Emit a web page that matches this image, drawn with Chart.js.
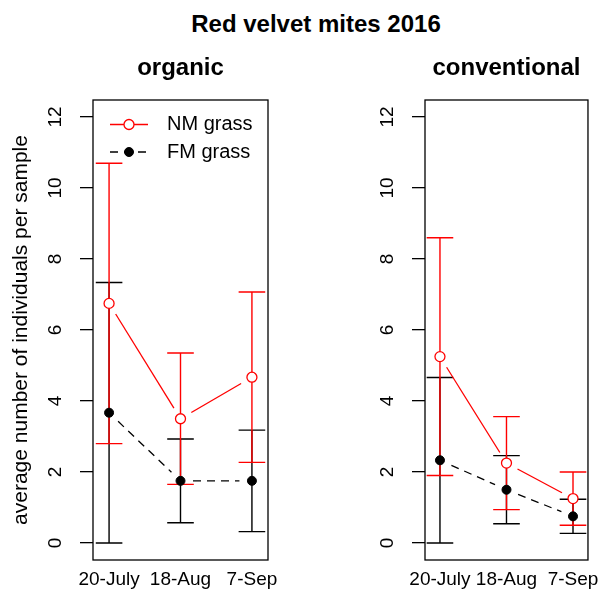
<!DOCTYPE html>
<html>
<head>
<meta charset="utf-8">
<script src="https://cdn.jsdelivr.net/npm/chart.js@4"></script>
<style>
  body { margin: 0; background: #fff; }
  #wrap { position: relative; width: 607px; height: 592px; background: #fff; overflow: hidden; }
  #mainTitle {
    position: absolute; left: 0; top: 9.5px; width: 632px; text-align: center;
    font: bold 24px "Liberation Sans", Arial, sans-serif; line-height: 28px; color: #000;
  }
  canvas { position: absolute; top: 0; }
  #organic { left: 0; }
  #conventional { left: 303px; }
</style>
</head>
<body>
<div id="wrap">
  <div id="mainTitle">Red velvet mites 2016</div>
  <canvas id="organic" width="303" height="592"></canvas>
  <canvas id="conventional" width="304" height="592"></canvas>
</div>
<script>
var dates = ['20-July', '18-Aug', '7-Sep'];
var yTicks = [0, 2, 4, 6, 8, 10, 12];

// organic plots: means and error (+/-) per sampling date
var organicNM = [6.75, 3.5, 4.67];
var organicNMErr = [3.95, 1.85, 2.4];
var organicFM = [3.67, 1.75, 1.75];
var organicFMErr = [3.67, 1.18, 1.43];

// conventional plots
var conventionalNM = [5.25, 2.25, 1.25];
var conventionalNMErr = [3.35, 1.31, 0.75];
var conventionalFM = [2.33, 1.5, 0.75];
var conventionalFMErr = [2.33, 0.96, 0.48];

var FONT = '"Liberation Sans", Arial, sans-serif';

function points(values) {
  return values.map(function (v, i) { return { x: i + 1, y: v }; });
}

function makeDatasets(nm, nmErr, fm, fmErr) {
  return [{
    label: 'NM grass',
    data: points(nm),
    errors: nmErr,
    color: 'red',
    dash: [],
    pointStyle: 'circle',
    pointRadius: 5,
    pointBackgroundColor: '#fff',
    pointBorderColor: 'red',
    pointBorderWidth: 1.3,
    showLine: false
  }, {
    label: 'FM grass',
    data: points(fm),
    errors: fmErr,
    color: 'black',
    dash: [8, 6],
    pointStyle: 'circle',
    pointRadius: 4.5,
    pointBackgroundColor: '#000',
    pointBorderColor: '#000',
    pointBorderWidth: 1,
    showLine: false
  }];
}

// frame, error bars and the gapped connecting lines (like R's type = "b")
var errorBars = {
  id: 'errorBars',
  beforeDatasetsDraw: function (chart) {
    var ctx = chart.ctx, a = chart.chartArea;
    var xs = chart.scales.x, ys = chart.scales.y;
    ctx.save();
    ctx.strokeStyle = '#000';
    ctx.lineWidth = 1.3;
    ctx.strokeRect(a.left, a.top, a.width, a.height);

    var cap = 13.3;
    [1, 0].forEach(function (k) {
      var ds = chart.data.datasets[k];
      ctx.strokeStyle = ds.color;
      ctx.lineWidth = 1.4;
      ctx.setLineDash([]);
      ds.data.forEach(function (p, j) {
        var px = xs.getPixelForValue(p.x);
        var hi = ys.getPixelForValue(p.y + ds.errors[j]);
        var lo = ys.getPixelForValue(Math.max(0, p.y - ds.errors[j]));
        ctx.beginPath();
        ctx.moveTo(px, hi); ctx.lineTo(px, lo);
        ctx.moveTo(px - cap, hi); ctx.lineTo(px + cap, hi);
        ctx.moveTo(px - cap, lo); ctx.lineTo(px + cap, lo);
        ctx.stroke();
      });
    });

    var gap = 12.5;
    chart.data.datasets.forEach(function (ds) {
      ctx.strokeStyle = ds.color;
      ctx.lineWidth = 1.3;
      for (var j = 0; j < ds.data.length - 1; j++) {
        var x0 = xs.getPixelForValue(ds.data[j].x), y0 = ys.getPixelForValue(ds.data[j].y);
        var x1 = xs.getPixelForValue(ds.data[j + 1].x), y1 = ys.getPixelForValue(ds.data[j + 1].y);
        var dx = x1 - x0, dy = y1 - y0, len = Math.sqrt(dx * dx + dy * dy);
        if (len <= 2 * gap) continue;
        var ux = dx / len, uy = dy / len;
        ctx.setLineDash(ds.dash);
        ctx.beginPath();
        ctx.moveTo(x0 + ux * gap, y0 + uy * gap);
        ctx.lineTo(x1 - ux * gap, y1 - uy * gap);
        ctx.stroke();
      }
    });
    ctx.restore();
  },
  afterDraw: function (chart) {
    // y tick labels written along the axis
    var ctx = chart.ctx, a = chart.chartArea, ys = chart.scales.y;
    ctx.save();
    ctx.fillStyle = '#000';
    ctx.font = '19px ' + FONT;
    ctx.textAlign = 'center';
    ctx.textBaseline = 'middle';
    ys.ticks.forEach(function (t) {
      ctx.save();
      ctx.translate(a.left - 37.5, ys.getPixelForValue(t.value));
      ctx.rotate(-Math.PI / 2);
      ctx.fillText(String(t.value), 0, 0);
      ctx.restore();
    });
    ctx.restore();
  }
};

// panel heading centred over the plot frame
var panelTitle = {
  id: 'panelTitle',
  afterDraw: function (chart, args, opts) {
    var ctx = chart.ctx, a = chart.chartArea;
    ctx.save();
    ctx.fillStyle = '#000';
    ctx.font = 'bold 24px ' + FONT;
    ctx.textAlign = 'center';
    ctx.textBaseline = 'alphabetic';
    ctx.fillText(opts.text, (a.left + a.right) / 2, 74.5);
    ctx.restore();
  }
};

var seriesLegend = {
  id: 'seriesLegend',
  afterDraw: function (chart) {
    var ctx = chart.ctx, a = chart.chartArea;
    ctx.save();
    ctx.font = '20px ' + FONT;
    ctx.textBaseline = 'middle';
    chart.data.datasets.forEach(function (ds, i) {
      var y = a.top + 24.5 + i * 27.5;
      var x0 = a.left + 17, x1 = a.left + 55, cx = a.left + 36;
      ctx.strokeStyle = ds.color;
      ctx.lineWidth = 1.3;
      ctx.setLineDash(ds.dash);
      ctx.beginPath();
      ctx.moveTo(x0, y); ctx.lineTo(x1, y);
      ctx.stroke();
      ctx.setLineDash([]);
      ctx.beginPath();
      ctx.arc(cx, y, ds.pointRadius, 0, Math.PI * 2);
      ctx.fillStyle = ds.pointBackgroundColor;
      ctx.fill();
      ctx.strokeStyle = ds.pointBorderColor;
      ctx.lineWidth = ds.pointBorderWidth;
      ctx.stroke();
      ctx.fillStyle = '#000';
      ctx.fillText(ds.label, a.left + 74, y);
    });
    ctx.restore();
  }
};

function makeChart(id, title, datasets, yWidth, rightPad, yLabel, extraPlugins) {
  return new Chart(document.getElementById(id), {
    type: 'scatter',
    data: { datasets: datasets },
    plugins: [errorBars, panelTitle].concat(extraPlugins),
    options: {
      responsive: false,
      animation: false,
      layout: { padding: { left: 0, right: rightPad, top: 100, bottom: 0 } },
      plugins: {
        legend: { display: false },
        tooltip: { enabled: false },
        title: { display: false },
        panelTitle: { text: title }
      },
      scales: {
        x: {
          type: 'linear',
          min: 0.775,
          max: 3.225,
          grid: { display: false, drawTicks: false },
          border: { display: false },
          afterBuildTicks: function (s) {
            s.ticks = dates.map(function (d, i) { return { value: i + 1 }; });
          },
          afterFit: function (s) { s.height = 32; },
          ticks: {
            color: '#000',
            padding: 8,
            maxRotation: 0,
            autoSkip: false,
            font: { family: FONT, size: 19 },
            callback: function (v) { return dates[v - 1]; }
          }
        },
        y: {
          type: 'linear',
          min: -0.48,
          max: 12.48,
          afterBuildTicks: function (s) {
            s.ticks = yTicks.map(function (v) { return { value: v }; });
          },
          afterFit: function (s) { s.width = yWidth; },
          border: { display: false },
          grid: {
            drawOnChartArea: false,
            drawTicks: true,
            tickLength: 13,
            color: '#000',
            lineWidth: 1.3
          },
          ticks: { display: false },
          title: {
            display: !!yLabel,
            text: yLabel,
            color: '#000',
            font: { family: FONT, size: 21 },
            padding: { top: 9, bottom: 0 }
          }
        }
      }
    }
  });
}

makeChart('organic', 'organic',
  makeDatasets(organicNM, organicNMErr, organicFM, organicFMErr),
  93, 35, 'average number of individuals per sample', [seriesLegend]);

makeChart('conventional', 'conventional',
  makeDatasets(conventionalNM, conventionalNMErr, conventionalFM, conventionalFMErr),
  122, 7, '', []);
</script>
</body>
</html>
